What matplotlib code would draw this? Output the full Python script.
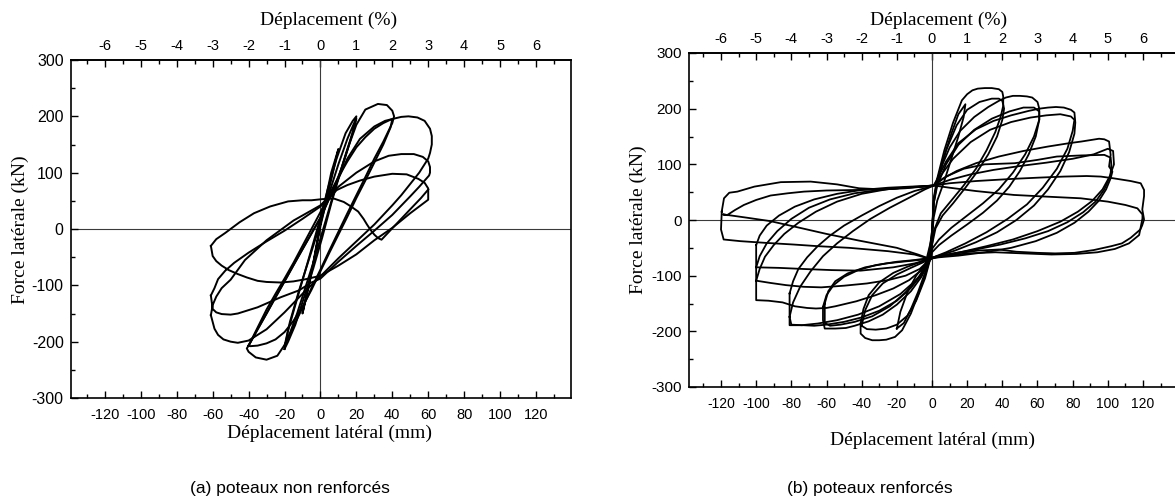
import matplotlib
matplotlib.use("Agg")
import matplotlib.pyplot as plt
from matplotlib.ticker import MultipleLocator, FixedLocator

# ---------------------------------------------------------------------------
# Hysteresis loops, lateral displacement (mm) vs lateral force (kN)
# ---------------------------------------------------------------------------

# (a) non-reinforced columns
a10_x = [0, 3, 6, 10, 8, 4, 0, -3, -6, -10, -8, -4, 0]
a10_y = [10, 55, 100, 142, 115, 60, 5, -45, -95, -150, -120, -60, 10]

a20a_x = [-20, -18, -14, -9, -4, 0, 4, 9, 14, 18, 20, 19, 16, 11, 6, 1, -4, -9, -14, -18, -20]
a20a_y = [-213, -180, -135, -80, -25, 20, 70, 125, 170, 192, 200, 182, 150, 100, 45, -15, -70, -120, -170, -200, -213]

a20b_x = [-20, -17, -12, -6, 0, 5, 10, 15, 19, 20, 18, 14, 8, 2, -3, -8, -13, -17, -20]
a20b_y = [-208, -165, -110, -50, 10, 65, 115, 160, 190, 196, 172, 132, 70, 5, -50, -100, -150, -185, -208]

a40a_x = [-40, -35, -30, -25, -20, -15, -10, -5, 0, 4, 8, 12, 16, 20, 25, 32, 37, 40, 41, 40,
          35, 30, 25, 20, 15, 10, 5, 0, -5, -10, -15, -20, -24, -30, -36, -40, -41, -40]
a40a_y = [-207, -178, -150, -121, -93, -64, -36, -8, 20, 48, 77, 110, 150, 185, 212, 222, 220, 210, 200, 188,
          155, 125, 92, 60, 28, -5, -38, -72, -105, -140, -173, -206, -225, -232, -228, -218, -212, -207]

a40b_x = [-40, -35, -30, -25, -20, -15, -10, -5, 0, 5, 10, 15, 20, 25, 30, 35, 39, 40,
          39, 35, 30, 25, 20, 15, 10, 5, 0, -5, -10, -15, -20, -25, -30, -35, -39, -40]
a40b_y = [-207, -175, -143, -115, -88, -60, -30, 0, 30, 62, 92, 120, 145, 163, 178, 188, 194, 195,
          180, 150, 118, 86, 55, 22, -10, -42, -75, -108, -138, -163, -183, -196, -203, -207, -208, -207]

a60a_x = [-40, -30, -20, -10, 0, 8, 15, 22, 30, 36, 41, 45, 49, 54, 58, 61, 62, 62, 61, 60,
          55, 50, 45, 40, 35, 30, 20, 10, 0, -10, -20, -30, -40, -46, -50, -54, -57, -59, -61]
a60a_y = [-207, -150, -93, -36, 20, 75, 125, 160, 182, 192, 196, 199, 200, 198, 192, 178, 165, 150, 135, 125,
          100, 80, 60, 42, 25, 8, -22, -52, -84, -115, -148, -178, -198, -202, -200, -196, -188, -177, -153]

a60b_x = [-61, -60, -58, -55, -50, -42, -30, -15, 0, 5, 10, 20, 30, 38, 45, 52, 57, 60, 61, 61, 60.5,
          55, 50, 40, 30, 20, 10, 0, -5, -12, -22, -35, -46, -50, -55, -58, -60, -61]
a60b_y = [-153, -135, -120, -105, -90, -55, -20, 15, 42, 58, 75, 100, 120, 130, 133, 133, 128, 120, 110, 100, 95,
          75, 58, 25, -3, -30, -58, -88, -95, -109, -121, -139, -150, -152, -151, -148, -142, -118]

a60c_x = [-61, -59, -57, -53, -48, -40, -30, -20, -10, 0, 5, 9, 15, 22, 30, 40, 48, 54.5, 58, 60, 60,
          55, 50, 45, 40, 35, 30, 20, 10, 0, -8, -15, -22, -30, -35, -41, -46, -51, -55, -58, -60, -61]
a60c_y = [-118, -105, -89, -74, -60, -42, -22, -3, 18, 40, 55, 69, 78, 86, 93, 98, 97, 89, 82, 72, 52,
          40, 28, 15, 2, -9, -20, -45, -65, -83, -89, -93, -95, -94, -92, -86, -80, -73, -65, -57, -48, -30]

a60d_x = [-61, -58, -53, -45, -37, -28, -18, -10, -5, 1, 7.5, 13, 17, 21, 24, 26, 28, 30, 32, 34, 42, 50, 56, 60]
a60d_y = [-30, -18, -7, 12, 28, 40, 49, 51, 51, 53, 54, 48, 40, 31, 18, 7.5, -2, -10, -16, -19, 8, 35, 55, 70]

# (b) reinforced columns
b20_x = [-20, -18, -14, -9, -4, -1, 0, 1, 3, 7, 11, 15, 19, 18, 15, 11, 7, 3, 1, 0, -1, -4, -8, -12, -16, -20]
b20_y = [-195, -165, -130, -100, -80, -60, -20, 30, 70, 115, 155, 190, 208, 185, 150, 110, 70, 35, 5, -30, -62, -95, -130, -160, -185, -195]

b40a_x = [-40.6, -39, -36, -30, -22, -14, -7, -2, 0, 1, 3, 7, 12, 17, 20, 23, 26, 30, 34, 38, 40, 40.5, 40.5,
          39, 36, 31, 25, 18, 11, 5, 1, -1, -4, -8, -12, -17, -21, -26, -30, -34, -38, -40.6, -40.6]
b40a_y = [-186, -160, -135, -112, -95, -84, -76, -68, -20, 40, 75, 125, 175, 215, 226, 233, 236, 237, 237, 235, 230, 222, 205,
          185, 158, 125, 92, 62, 35, 12, -20, -68, -100, -135, -168, -198, -210, -215, -216, -216, -212, -204, -186]

b40b_x = [-40, -38, -34, -28, -20, -12, -5, -1, 0, 1, 3, 8, 14, 20, 27, 34, 38, 40, 41,
          40, 37, 32, 26, 19, 12, 6, 2, 0, -1, -4, -9, -14, -20, -26, -32, -37, -40]
b40b_y = [-190, -162, -135, -114, -98, -86, -76, -70, -25, 35, 72, 125, 170, 198, 212, 218, 218, 214, 200,
          180, 150, 118, 88, 58, 30, 8, -15, -45, -70, -105, -145, -172, -188, -195, -197, -196, -190]

b60a_x = [-62, -60, -56, -50, -42, -32, -20, -10, -3, 0, 1, 3, 6, 10, 16, 24, 32, 38, 42, 46, 50, 54, 57, 60, 61, 61,
          59, 55, 50, 44, 37, 29, 20, 11, 4, 0, -1, -6, -12, -20, -28, -36, -44, -49, -55, -61, -62, -62]
b60a_y = [-156, -135, -117, -102, -90, -81, -75, -72, -69, -30, 35, 68, 100, 130, 160, 185, 203, 214, 220, 223, 223, 222, 220, 212, 200, 180,
          150, 118, 88, 60, 35, 13, -8, -28, -45, -58, -70, -102, -128, -152, -170, -182, -190, -194, -195, -195, -180, -156]

b60b_x = [-61, -59, -55, -48, -38, -26, -14, -5, -1, 0, 1, 3, 8, 15, 24, 34, 44, 52, 58, 61, 61,
          58, 53, 46, 38, 29, 20, 11, 4, 0, -1, -7, -15, -24, -34, -44, -52, -58, -61, -61]
b60b_y = [-150, -128, -110, -96, -85, -78, -74, -71, -68, -25, 30, 62, 100, 135, 162, 182, 195, 202, 202, 195, 180,
          150, 118, 85, 55, 30, 8, -14, -35, -52, -66, -100, -130, -155, -173, -183, -188, -190, -185, -150]

b80a_x = [-81, -79, -76, -71, -65, -58, -50, -40, -30, -20, -10, -3, 1, 4, 8, 15, 25, 35, 45, 55, 61, 66, 70.5, 75, 79, 81, 81.5,
          81, 78, 73, 66, 58, 48, 37, 25, 13, 4, 0, -1, -6, -12, -20, -30, -40, -50, -60, -67, -73, -79, -81, -81, -81]
b80a_y = [-132, -110, -88, -67, -47, -28, -10, 8, 25, 40, 52, 58, 62, 80, 105, 138, 163, 178, 188, 196, 200, 202, 203, 202, 198, 193, 175,
          155, 122, 88, 55, 26, 0, -22, -40, -55, -64, -68, -70, -98, -122, -145, -163, -175, -183, -188, -190, -189, -189, -189, -174, -132]

b80b_x = [-81, -79, -75, -69, -62, -54, -45, -35, -24, -13, -4, 1, 5, 12, 22, 33, 45, 56, 65, 73, 79, 81,
          80, 77, 71, 63, 54, 43, 31, 19, 8, 0, -1, -8, -18, -30, -42, -54, -65, -74, -80, -81]
b80b_y = [-174, -148, -120, -92, -65, -42, -20, 2, 22, 40, 55, 62, 80, 110, 140, 162, 176, 184, 188, 190, 186, 180,
          160, 128, 92, 58, 28, 2, -22, -42, -58, -68, -72, -105, -133, -155, -170, -180, -186, -189, -188, -174]

b100a_x = [-100, -98, -95, -90, -84, -76, -66, -54, -40, -26, -13, -4, 1, 6, 14, 25, 38, 52, 66, 78, 85, 91, 95, 98,
           100.7, 101.6, 100.7, 102.6, 101.6, 99, 95, 89, 81, 71, 59, 45, 30, 15, 4, 0, -1,
           -6, -13, -22, -32, -43, -55, -60, -66, -71, -78, -85, -93, -100, -100]
b100a_y = [-109, -88, -66, -45, -25, -5, 15, 33, 47, 55, 59, 61, 62, 74, 88, 102, 114, 124, 132, 138, 141, 144, 146, 145,
           141, 117, 96, 87, 75, 55, 35, 15, -5, -23, -38, -50, -58, -64, -67, -69, -70,
           -90, -108, -123, -135, -146, -155, -158, -159, -158, -155, -148, -145, -144, -109]

b100b_x = [-100, -98, -94, -88, -80, -70, -58, -44, -30, -16, -5, 1, 8, 18, 30, 47, 60, 71, 85, 98, 101.6, 102,
           101.5, 98, 93, 86, 77, 66, 53, 39, 25, 12, 3, 0, -1, -7, -15, -25, -37, -50, -63, -73, -83, -92, -100, -100]
b100b_y = [-85, -65, -42, -20, 2, 22, 37, 48, 54, 58, 60, 62, 78, 92, 100, 102, 108, 114, 116, 117, 112, 100,
           80, 55, 33, 14, -4, -20, -33, -44, -53, -60, -65, -68, -70, -88, -100, -108, -114, -118, -121, -120, -117, -113, -109, -85]

b100c_x = [-100, -98, -94, -87, -78, -67, -54, -40, -25, -12, -3, 1, 10, 22, 35, 50, 65, 80, 92, 100, 103, 103.5,
           101, 97, 91, 83, 73, 60, 46, 31, 16, 5, 0, -1, -10, -22, -40.6, -57, -73, -87, -100, -100]
b100c_y = [-45, -28, -10, 8, 24, 37, 47, 54, 58, 60, 61, 62, 72, 82, 90, 97, 103, 110, 118, 128, 124, 100,
           78, 55, 34, 15, -3, -20, -35, -47, -58, -65, -68, -70, -78, -85, -91, -90, -88, -86, -85, -45]

b120a_x = [-119.6, -118.3, -115.3, -110.7, -101, -86, -69, -54, -41.5, -28, -15, -5, 1, 10, 25, 46.6, 60, 75, 88, 96, 103,
           107, 113, 118.7, 120.6, 120.6, 119.6, 120.6, 119.5, 118.5, 113, 108, 102, 92, 81, 70, 60, 48, 38, 26, 14, 4, 0, -1,
           -10, -25, -47, -65, -79, -95, -109, -118.5, -120, -119.6, -119.6]
b120a_y = [15, 39, 49, 51, 60, 68, 69, 64, 57, 55, 57, 60, 62, 66, 70, 74, 76, 78, 79, 78, 75,
           73, 70, 66, 54, 43, 19, 1, -10, -17, -32, -42, -47, -54, -59, -60, -59, -57, -53, -55, -60, -66, -68, -70,
           -62, -56, -50, -47, -44, -41, -38, -35, -17, 13, 15]

b120b_x = [-116.4, -112, -107, -100, -91.8, -82, -72.8, -60, -41.5, -25, -10, 1, 10, 25, 46.6, 65, 84.6, 100, 110, 116.8,
           119.7, 119.7, 117.8, 112, 104, 94, 82, 68, 52, 36, 20, 6, 0, -1, -8, -20, -41.5, -60, -78, -92, -105, -114, -119, -116.4]
b120b_y = [9, 18, 27, 36, 44, 48, 51, 53, 54, 56, 59, 62, 58, 52, 45, 42, 39, 33, 27, 21,
           10, 3, -27, -42, -52, -58, -61, -62, -60, -58, -60, -65, -68, -70, -62, -50, -37, -25, -12, -2, 4, 8, 10, 9]

# Axis ticks
mm_ticks = list(range(-120, 121, 20))
pct_ticks = list(range(-6, 7))
kn_ticks = list(range(-300, 301, 100))

left_loops = [(a10_x, a10_y), (a20a_x, a20a_y), (a20b_x, a20b_y), (a40a_x, a40a_y), (a40b_x, a40b_y),
              (a60a_x, a60a_y), (a60b_x, a60b_y), (a60c_x, a60c_y), (a60d_x, a60d_y)]
right_loops = [(b20_x, b20_y), (b40a_x, b40a_y), (b40b_x, b40b_y), (b60a_x, b60a_y), (b60b_x, b60b_y),
               (b80a_x, b80a_y), (b80b_x, b80b_y), (b100a_x, b100a_y), (b100b_x, b100b_y),
               (b100c_x, b100c_y), (b120a_x, b120a_y), (b120b_x, b120b_y)]

plt.rcParams['font.family'] = ['Liberation Sans', 'DejaVu Sans']
plt.rcParams['axes.unicode_minus'] = False
SERIF = ['Liberation Serif', 'DejaVu Serif']

W, H = 1175, 501
fig = plt.figure(figsize=(W / 100, H / 100), dpi=100)


def px_rect(left, top, right, bottom):
    return [left / W, 1 - bottom / H, (right - left) / W, (bottom - top) / H]


def style_axes(ax, xlim, ylab_size, xlab_size, hide_right=False):
    ax.set_xlim(*xlim)
    ax.set_ylim(-300, 300)
    ax.axhline(0, color='#3a3a3a', lw=0.8, zorder=1)
    ax.axvline(0, color='#3a3a3a', lw=0.8, zorder=1)
    ax.xaxis.set_major_locator(FixedLocator(mm_ticks))
    ax.xaxis.set_minor_locator(MultipleLocator(10))
    ax.yaxis.set_major_locator(FixedLocator(kn_ticks))
    ax.yaxis.set_minor_locator(MultipleLocator(50))
    ax.tick_params(axis='both', which='both', direction='in', width=1.0, color='black',
                   top=False, right=False)
    ax.tick_params(axis='both', which='major', length=5)
    ax.tick_params(axis='both', which='minor', length=3)
    ax.tick_params(axis='x', labelsize=xlab_size, pad=7)
    ax.tick_params(axis='y', labelsize=ylab_size, pad=5)
    for sp in ax.spines.values():
        sp.set_linewidth(1.2)
    if hide_right:
        ax.spines['right'].set_visible(False)
    sec = ax.secondary_xaxis('top', functions=(lambda v: v / 20.0, lambda p: p * 20.0))
    sec.xaxis.set_major_locator(FixedLocator(pct_ticks))
    sec.xaxis.set_minor_locator(MultipleLocator(0.5))
    sec.tick_params(axis='x', which='both', direction='in', width=1.0)
    sec.tick_params(axis='x', which='major', length=5, labelsize=10.5, pad=5)
    sec.tick_params(axis='x', which='minor', length=3)
    sec.spines['top'].set_linewidth(1.2)
    return sec


ax1 = fig.add_axes(px_rect(70.6, 60, 571, 398))
style_axes(ax1, (-139.1, 139.5), ylab_size=11.5, xlab_size=10.5)
for lx, ly in left_loops:
    ax1.plot(lx, ly, color='black', lw=1.4, solid_joinstyle='round', zorder=3)

ax2 = fig.add_axes(px_rect(689, 53, 1175, 387))
style_axes(ax2, (-138.2, 138.2), ylab_size=11, xlab_size=10, hide_right=True)
for lx, ly in right_loops:
    ax2.plot(lx, ly, color='black', lw=1.3, solid_joinstyle='round', zorder=3)

# Axis titles (serif, as in the printed report)
fig.text(329 / W, 1 - 20 / H, 'Déplacement (%)', family=SERIF, fontsize=14, ha='center', va='center')
fig.text(329 / W, 1 - 433 / H, 'Déplacement latéral (mm)', family=SERIF, fontsize=14, ha='center', va='center')
fig.text(20 / W, 1 - 230 / H, 'Force latérale (kN)', family=SERIF, fontsize=14, ha='center', va='center',
         rotation=90)

fig.text(939 / W, 1 - 20 / H, 'Déplacement (%)', family=SERIF, fontsize=14, ha='center', va='center')
fig.text(933 / W, 1 - 440 / H, 'Déplacement latéral (mm)', family=SERIF, fontsize=14, ha='center', va='center')
fig.text(638 / W, 1 - 220 / H, 'Force latérale (kN)', family=SERIF, fontsize=14, ha='center', va='center',
         rotation=90)

# Sub-figure captions
fig.text(290 / W, 1 - 488 / H, '(a) poteaux non renforcés', fontsize=12.5, ha='center', va='center')
fig.text(870 / W, 1 - 488 / H, '(b) poteaux renforcés', fontsize=12.5, ha='center', va='center')

fig.savefig('out.png', dpi=100)
